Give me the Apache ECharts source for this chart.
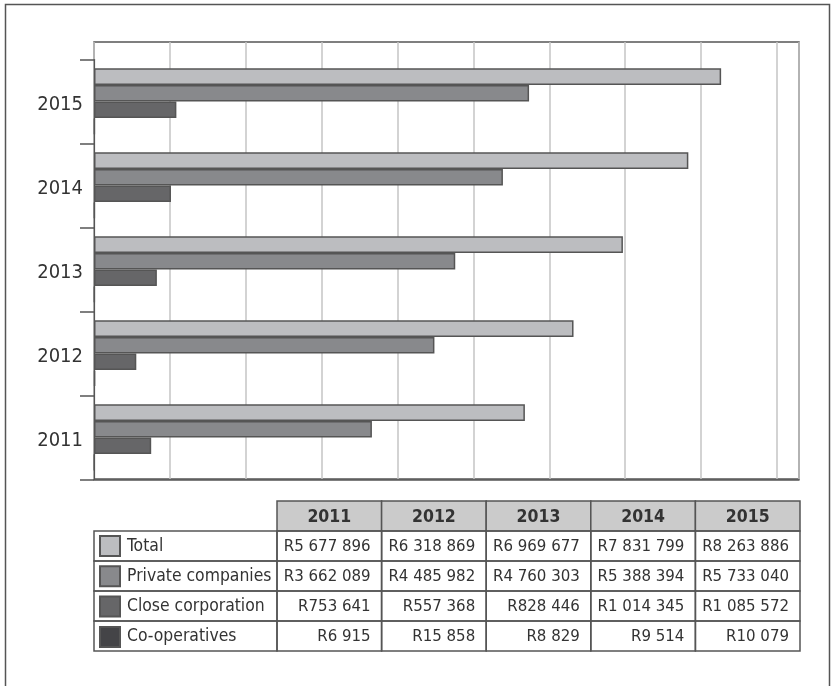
<!DOCTYPE html>
<html>
<head>
<meta charset="utf-8">
<script src="https://cdn.jsdelivr.net/npm/echarts@6/dist/echarts.min.js"></script>
<style>
  html, body { margin: 0; padding: 0; background: #fff; }
  #chart { width: 834px; height: 686px; }
</style>
</head>
<body>
<div id="chart"></div>
<script>
// ---- data ----
const years = ['2011', '2012', '2013', '2014', '2015'];
const seriesNames = ['Total', 'Private companies', 'Close corporation', 'Co-operatives'];
const totalValues = [5677896, 6318869, 6969677, 7831799, 8263886];
const privateValues = [3662089, 4485982, 4760303, 5388394, 5733040];
const closeValues = [753641, 557368, 828446, 1014345, 1085572];
const coopValues = [6915, 15858, 8829, 9514, 10079];
const xMin = 0;
const xMax = 9290000;
const xStep = 1000000;

// ---- styles ----
const FONT = "'DejaVu Sans Condensed', 'Liberation Sans Narrow', sans-serif";
const TEXT = '#333333';
const LINE = '#555555';
const fills = ['#bcbdc0', '#88898c', '#666668', '#444447'];
const allValues = [totalValues, privateValues, closeValues, coopValues];

const chart = echarts.init(document.getElementById('chart'), null, { renderer: 'canvas' });

function fmt(v) {
  return 'R' + String(v).replace(/\B(?=(\d{3})+(?!\d))/g, ' ');
}

// ---- table layout ----
const tableLeft = 94, labelColRight = 277, tableRight = 800, tableTop = 501, rowH = 30;
const colW = (tableRight - labelColRight) / years.length;
const graphics = [];
// outer frame
graphics.push({
  type: 'rect', silent: true, z: 0,
  shape: { x: 5.5, y: 4.5, width: 824, height: 700 },
  style: { fill: 'none', stroke: LINE, lineWidth: 1.5 }
});
years.forEach((y, i) => {
  const x = labelColRight + i * colW;
  graphics.push({
    type: 'rect', silent: true,
    shape: { x: x, y: tableTop, width: colW, height: rowH },
    style: { fill: '#cbcbcb', stroke: LINE, lineWidth: 1.5 }
  });
  graphics.push({
    type: 'text', silent: true, z: 10,
    style: { text: y, x: x + colW / 2, y: tableTop + rowH / 2 + 1, align: 'center', verticalAlign: 'middle',
      fontSize: 17.5, fontWeight: 'bold', fontFamily: FONT, fill: TEXT }
  });
});
seriesNames.forEach((name, r) => {
  const y0 = tableTop + (r + 1) * rowH;
  graphics.push({
    type: 'rect', silent: true,
    shape: { x: tableLeft, y: y0, width: labelColRight - tableLeft, height: rowH },
    style: { fill: 'none', stroke: LINE, lineWidth: 1.5 }
  });
  allValues[r].forEach((v, i) => {
    const x = labelColRight + i * colW;
    graphics.push({
      type: 'rect', silent: true,
      shape: { x: x, y: y0, width: colW, height: rowH },
      style: { fill: 'none', stroke: LINE, lineWidth: 1.5 }
    });
    graphics.push({
      type: 'text', silent: true, z: 10,
      style: { text: fmt(v), x: x + colW - 11, y: y0 + rowH / 2 + 1, align: 'right', verticalAlign: 'middle',
        fontSize: 16.7, fontFamily: FONT, fill: TEXT }
    });
  });
});

const series = seriesNames.map((name, k) => ({
  name: name,
  type: 'bar',
  xAxisIndex: 1,
  yAxisIndex: 1,
  data: allValues[k],
  barGap: '0%',
  barCategoryGap: '21%',
  z: 5,
  itemStyle: { color: fills[k], borderColor: LINE, borderWidth: 1.5 },
  emphasis: { disabled: true },
  animation: false
}));

const option = {
  backgroundColor: '#ffffff',
  animation: false,
  textStyle: { fontFamily: FONT },
  grid: [
    { left: 94, top: 42, width: 705, height: 437, show: true, borderColor: LINE, borderWidth: 1.5,
      backgroundColor: 'transparent', containLabel: false },
    { left: 94, top: 59.5, width: 705, height: 420, containLabel: false }
  ],
  xAxis: [
    { type: 'value', gridIndex: 0, min: xMin, max: xMax, interval: xStep,
      axisLine: { show: false }, axisTick: { show: false }, axisLabel: { show: false },
      splitLine: { show: true, lineStyle: { color: '#c4c4c4', width: 1.5 } } },
    { type: 'value', gridIndex: 1, min: xMin, max: xMax, interval: xStep,
      axisLine: { show: true, lineStyle: { color: LINE, width: 1.5 } },
      axisTick: { show: false }, axisLabel: { show: false }, splitLine: { show: false } }
  ],
  yAxis: [
    { type: 'value', gridIndex: 0, show: false },
    { type: 'category', gridIndex: 1, data: years,
      axisLine: { show: true, lineStyle: { color: LINE, width: 1.2 } },
      axisTick: { show: true, length: 14, lineStyle: { color: LINE, width: 1.5 } },
      axisLabel: { show: true, margin: 11, fontSize: 20, fontFamily: FONT, color: TEXT,
        verticalAlign: 'top', lineHeight: 7 },
      splitLine: { show: false } }
  ],
  legend: {
    data: seriesNames,
    orient: 'vertical',
    left: 99, top: 535,
    padding: 0,
    itemWidth: 20, itemHeight: 20, itemGap: 8.3,
    icon: 'rect',
    selectedMode: false,
    textStyle: { fontSize: 17.4, lineHeight: 20, fontFamily: FONT, color: TEXT, padding: [0, 0, 0, 2] }
  },
  graphic: graphics,
  series: series
};
chart.setOption(option);
</script>
</body>
</html>
